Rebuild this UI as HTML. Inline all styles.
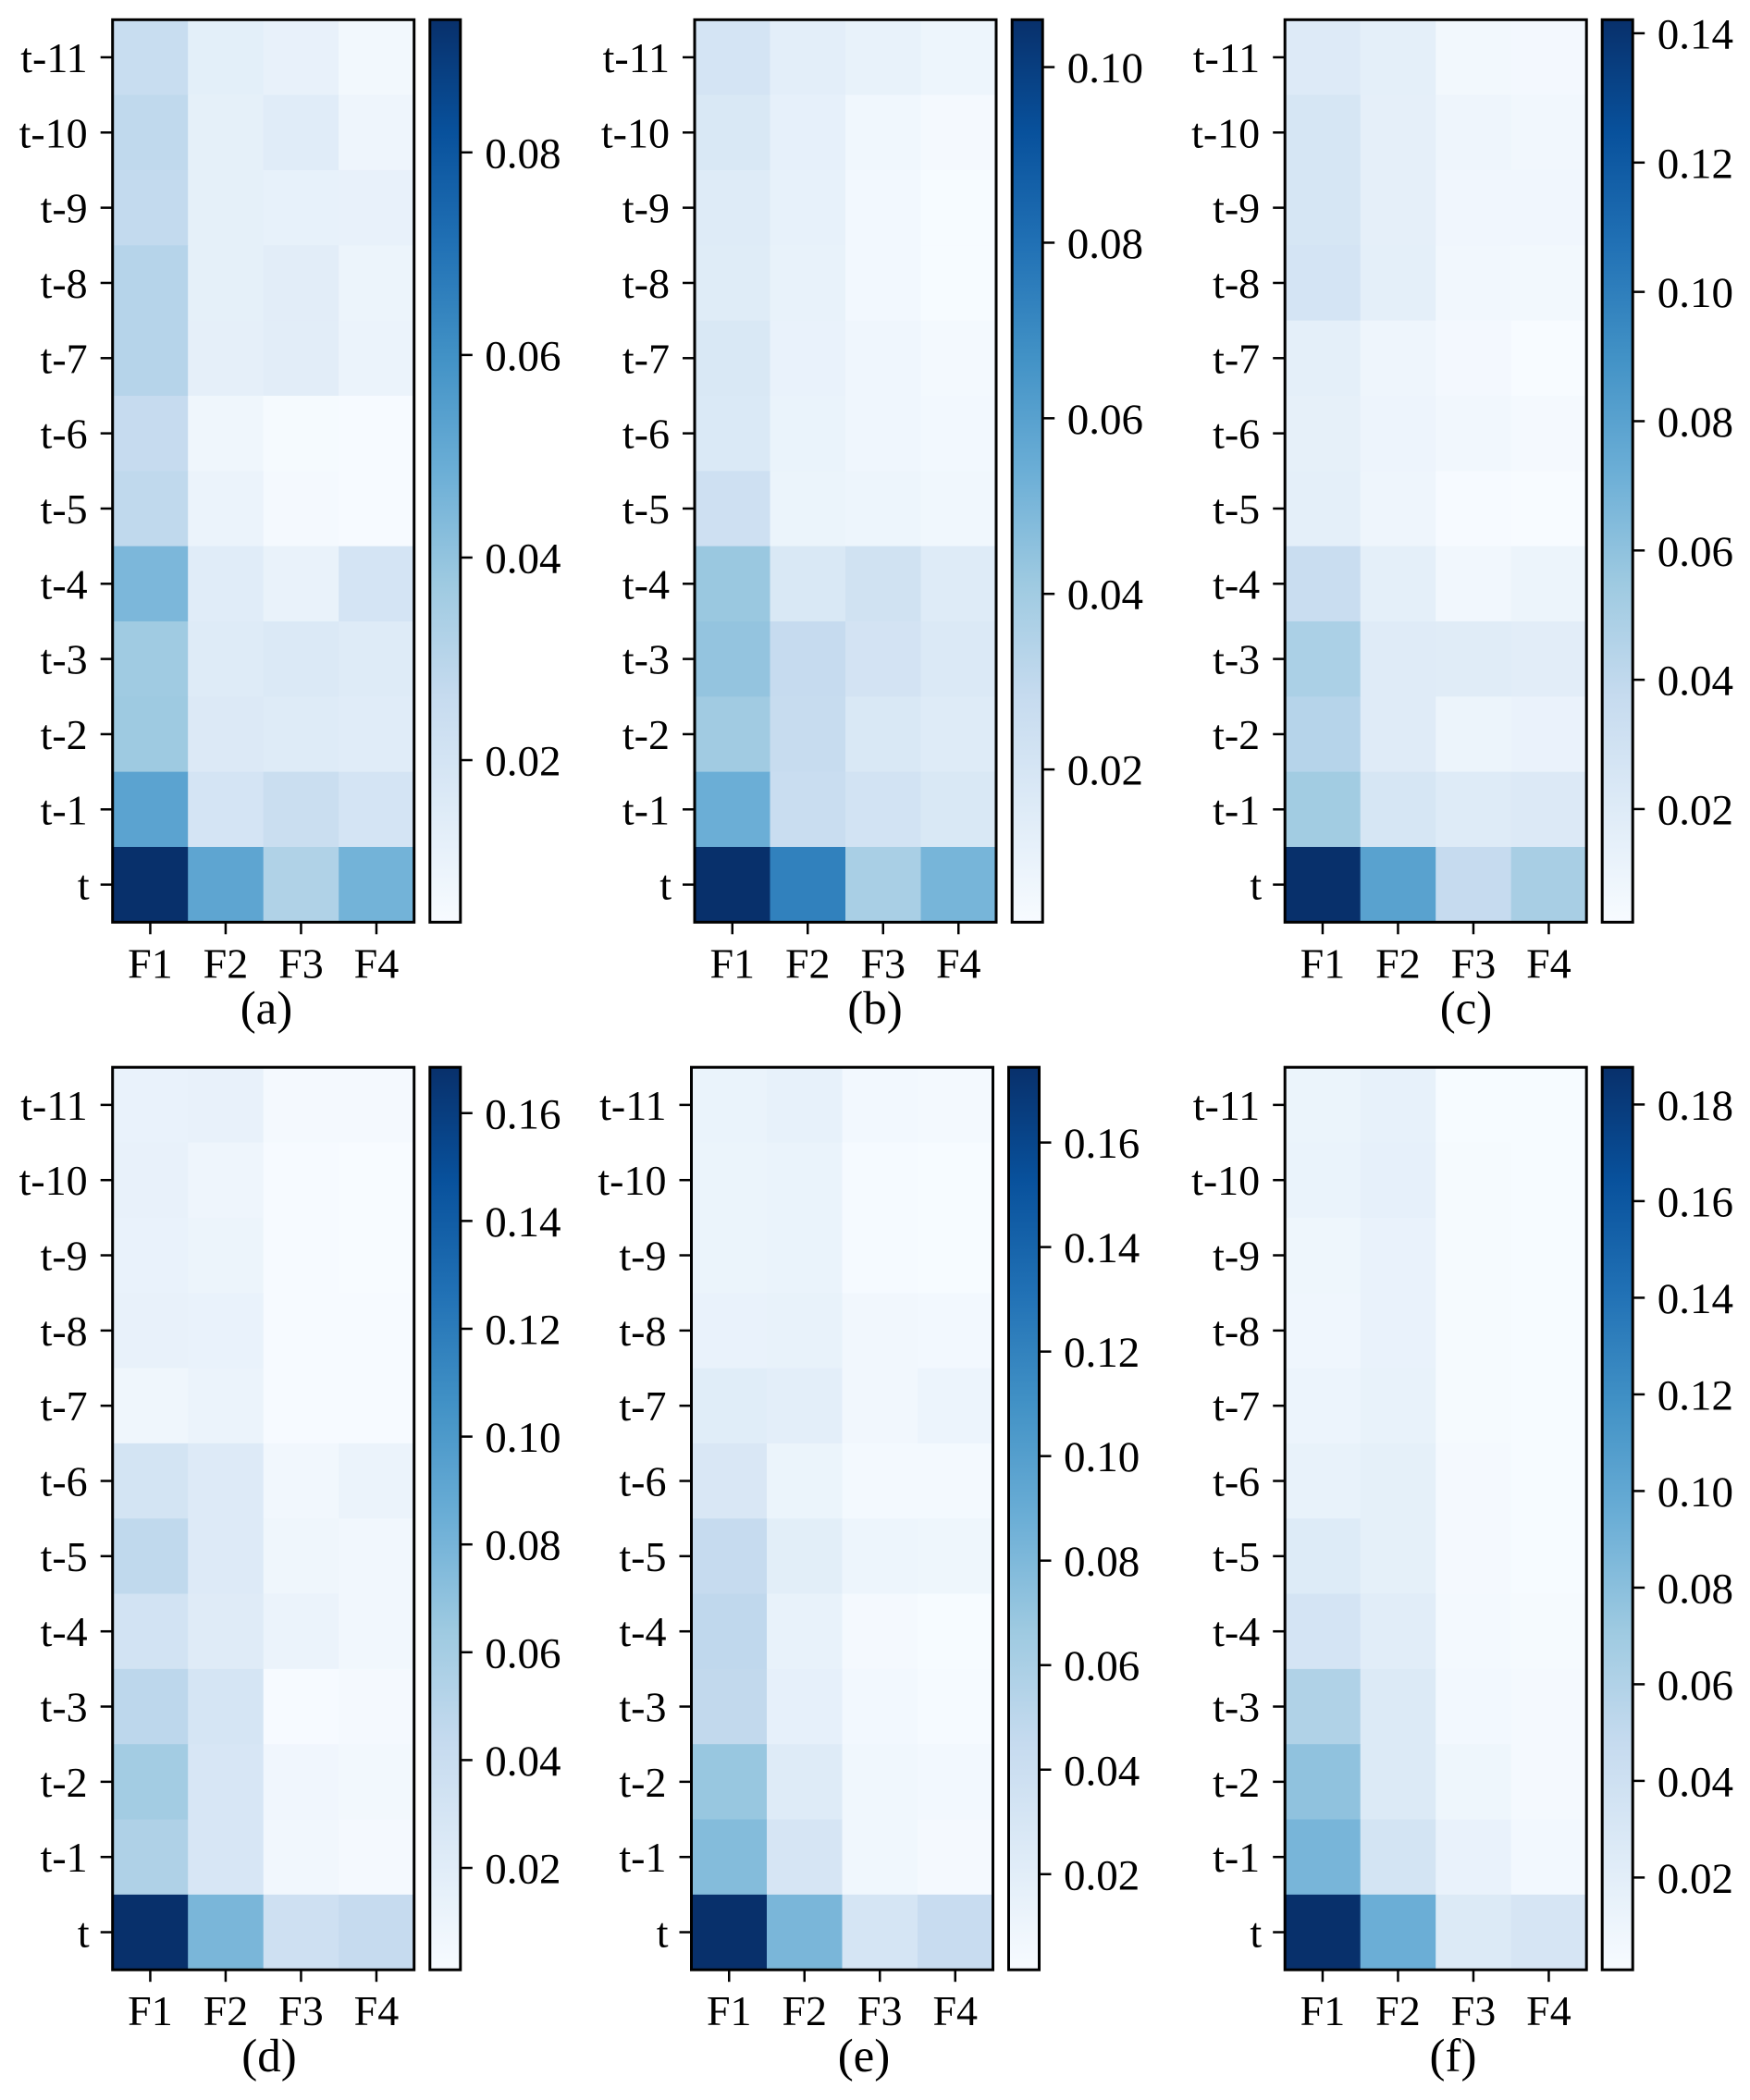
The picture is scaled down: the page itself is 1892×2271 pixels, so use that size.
<!DOCTYPE html>
<html lang="en">
<head>
<meta charset="utf-8">
<title>Feature attention heatmaps</title>
<style>
  html, body { margin: 0; padding: 0; background: #ffffff; }
  svg { display: block; }
  text { font-family: "Liberation Serif", serif; font-size: 46px; fill: #000000; }
  text.bar-label { font-size: 47px; }
  text.caption { font-size: 51px; }
</style>
</head>
<body>
<svg id="figure" xmlns="http://www.w3.org/2000/svg" width="1892" height="2271" viewBox="0 0 1892 2271">
  <defs>
    <linearGradient id="blues-gradient" x1="0" y1="1" x2="0" y2="0">
      <stop offset="0" stop-color="#f7fbff"/>
      <stop offset="0.125" stop-color="#deebf7"/>
      <stop offset="0.25" stop-color="#c6dbef"/>
      <stop offset="0.375" stop-color="#9ecae1"/>
      <stop offset="0.5" stop-color="#6baed6"/>
      <stop offset="0.625" stop-color="#4292c6"/>
      <stop offset="0.75" stop-color="#2171b5"/>
      <stop offset="0.875" stop-color="#08519c"/>
      <stop offset="1" stop-color="#08306b"/>
    </linearGradient>
  </defs>
</svg>
<script>
const features = ["F1", "F2", "F3", "F4"];
const timeSteps = ["t-11", "t-10", "t-9", "t-8", "t-7", "t-6", "t-5", "t-4", "t-3", "t-2", "t-1", "t"];

const valuesA = [
  [0.0252, 0.0127, 0.0109, 0.0064],
  [0.0279, 0.0118, 0.0144, 0.0082],
  [0.0270, 0.0118, 0.0113, 0.0109],
  [0.0306, 0.0118, 0.0135, 0.0091],
  [0.0306, 0.0122, 0.0135, 0.0095],
  [0.0261, 0.0077, 0.0050, 0.0046],
  [0.0279, 0.0095, 0.0055, 0.0046],
  [0.0449, 0.0144, 0.0104, 0.0198],
  [0.0368, 0.0153, 0.0167, 0.0153],
  [0.0373, 0.0162, 0.0153, 0.0144],
  [0.0529, 0.0198, 0.0243, 0.0198],
  [0.0932, 0.0520, 0.0323, 0.0467]
];
const valuesB = [
  [0.0210, 0.0127, 0.0101, 0.0076],
  [0.0179, 0.0112, 0.0060, 0.0039],
  [0.0153, 0.0107, 0.0050, 0.0029],
  [0.0148, 0.0101, 0.0050, 0.0029],
  [0.0179, 0.0096, 0.0065, 0.0045],
  [0.0174, 0.0091, 0.0065, 0.0050],
  [0.0241, 0.0086, 0.0076, 0.0060],
  [0.0421, 0.0179, 0.0230, 0.0153],
  [0.0437, 0.0282, 0.0215, 0.0168],
  [0.0401, 0.0277, 0.0179, 0.0153],
  [0.0540, 0.0267, 0.0220, 0.0179],
  [0.1056, 0.0736, 0.0375, 0.0509]
];
const valuesC = [
  [0.0210, 0.0161, 0.0063, 0.0056],
  [0.0259, 0.0154, 0.0091, 0.0070],
  [0.0259, 0.0154, 0.0077, 0.0077],
  [0.0273, 0.0161, 0.0070, 0.0063],
  [0.0161, 0.0091, 0.0056, 0.0028],
  [0.0147, 0.0098, 0.0070, 0.0049],
  [0.0161, 0.0091, 0.0035, 0.0028],
  [0.0350, 0.0161, 0.0070, 0.0105],
  [0.0491, 0.0196, 0.0189, 0.0175],
  [0.0442, 0.0196, 0.0105, 0.0119],
  [0.0533, 0.0259, 0.0203, 0.0217],
  [0.1423, 0.0799, 0.0372, 0.0505]
];
const valuesD = [
  [0.0124, 0.0140, 0.0040, 0.0040],
  [0.0140, 0.0090, 0.0023, 0.0014],
  [0.0124, 0.0107, 0.0023, 0.0014],
  [0.0140, 0.0124, 0.0023, 0.0023],
  [0.0082, 0.0115, 0.0023, 0.0023],
  [0.0317, 0.0233, 0.0065, 0.0115],
  [0.0460, 0.0233, 0.0082, 0.0065],
  [0.0325, 0.0216, 0.0115, 0.0065],
  [0.0476, 0.0300, 0.0023, 0.0040],
  [0.0611, 0.0283, 0.0073, 0.0056],
  [0.0552, 0.0283, 0.0065, 0.0040],
  [0.1686, 0.0787, 0.0359, 0.0426]
];
const valuesE = [
  [0.0126, 0.0152, 0.0056, 0.0048],
  [0.0117, 0.0126, 0.0030, 0.0022],
  [0.0117, 0.0126, 0.0030, 0.0022],
  [0.0134, 0.0143, 0.0065, 0.0056],
  [0.0212, 0.0186, 0.0065, 0.0108],
  [0.0282, 0.0117, 0.0048, 0.0048],
  [0.0446, 0.0195, 0.0100, 0.0091],
  [0.0481, 0.0143, 0.0039, 0.0022],
  [0.0472, 0.0160, 0.0056, 0.0030],
  [0.0689, 0.0230, 0.0074, 0.0056],
  [0.0776, 0.0308, 0.0074, 0.0039],
  [0.1746, 0.0819, 0.0316, 0.0429]
];
const valuesF = [
  [0.0117, 0.0155, 0.0014, 0.0014],
  [0.0127, 0.0164, 0.0024, 0.0014],
  [0.0089, 0.0136, 0.0024, 0.0014],
  [0.0080, 0.0136, 0.0024, 0.0014],
  [0.0108, 0.0145, 0.0024, 0.0014],
  [0.0145, 0.0174, 0.0033, 0.0014],
  [0.0248, 0.0174, 0.0033, 0.0014],
  [0.0342, 0.0211, 0.0042, 0.0024],
  [0.0604, 0.0258, 0.0052, 0.0033],
  [0.0773, 0.0258, 0.0089, 0.0033],
  [0.0885, 0.0351, 0.0136, 0.0052],
  [0.1878, 0.0942, 0.0258, 0.0323]
];

const limitsA = [0.0040, 0.0931];
const limitsB = [0.0026, 0.1054];
const limitsC = [0.0025, 0.1421];
const limitsD = [0.0011, 0.1685];
const limitsE = [0.0017, 0.1744];
const limitsF = [0.0009, 0.1877];

const ticksA = [0.02, 0.04, 0.06, 0.08];
const ticksB = [0.02, 0.04, 0.06, 0.08, 0.10];
const ticksC = [0.02, 0.04, 0.06, 0.08, 0.10, 0.12, 0.14];
const ticksD = [0.02, 0.04, 0.06, 0.08, 0.10, 0.12, 0.14, 0.16];
const ticksE = [0.02, 0.04, 0.06, 0.08, 0.10, 0.12, 0.14, 0.16];
const ticksF = [0.02, 0.04, 0.06, 0.08, 0.10, 0.12, 0.14, 0.16, 0.18];

const captions = ["(a)", "(b)", "(c)", "(d)", "(e)", "(f)"];
const blues = [[247,251,255],[222,235,247],[198,219,239],[158,202,225],[107,174,214],[66,146,198],[33,113,181],[8,81,156],[8,48,107]];

const NS = "http://www.w3.org/2000/svg";
const figure = document.getElementById("figure");

function blueColor(t) {
  const c = Math.max(0, Math.min(1, t)) * (blues.length - 1);
  const i = Math.min(Math.floor(c), blues.length - 2);
  const f = c - i;
  const mix = [0, 1, 2].map(function (k) { return Math.round(blues[i][k] + (blues[i + 1][k] - blues[i][k]) * f); });
  return "rgb(" + mix.join(",") + ")";
}

function shape(parent, tag, attrs) {
  const el = document.createElementNS(NS, tag);
  Object.keys(attrs).forEach(function (k) { el.setAttribute(k, attrs[k]); });
  parent.appendChild(el);
  return el;
}

function drawPanel(layout, values, limits, ticks, caption, key) {
  const mapW = 326, mapH = 976, barW = 33;
  const xScale = function (i) { return layout.left + i * mapW / features.length; };
  const yScale = function (i) { return layout.top + i * mapH / timeSteps.length; };
  const norm = function (v) { return (v - limits[0]) / (limits[1] - limits[0]); };
  const barScale = function (v) { return layout.top + mapH * (1 - norm(v)); };

  const g = shape(figure, "g", {});
  
  

  values.forEach(function (row, r) {
    row.forEach(function (v, c) {
      const cell = shape(g, "rect", { x: xScale(c), y: yScale(r), width: mapW / features.length + 0.5, height: mapH / timeSteps.length + 0.5, fill: blueColor(norm(v)) });
      
      
    });
  });

  const frame = shape(g, "rect", { x: layout.left, y: layout.top, width: mapW, height: mapH, fill: "none", stroke: "#000", "stroke-width": 3 });
  
  

  timeSteps.forEach(function (label, r) {
    const y = yScale(r + 0.5);
    const tick = shape(g, "line", { x1: layout.left - 13, x2: layout.left, y1: y, y2: y, stroke: "#000", "stroke-width": 2.5 });
    
    
    const labelEnd = label === "t" ? layout.left - 25 : layout.left - 27;
    const text = shape(g, "text", { x: labelEnd, y: y + 16, "text-anchor": "end" });
    text.textContent = label;
    
    
  });

  features.forEach(function (label, c) {
    const x = xScale(c + 0.5);
    const tick = shape(g, "line", { x1: x, x2: x, y1: layout.top + mapH, y2: layout.top + mapH + 13, stroke: "#000", "stroke-width": 2.5 });
    
    
    const text = shape(g, "text", { x: x, y: layout.top + mapH + 60, "text-anchor": "middle" });
    text.textContent = label;
    
    
  });

  const bar = shape(g, "rect", { x: layout.barLeft, y: layout.top, width: barW, height: mapH, fill: "url(#blues-gradient)", stroke: "#000", "stroke-width": 3 });
  
  

  ticks.forEach(function (v) {
    const y = barScale(v);
    const label = v.toFixed(2);
    const tick = shape(g, "line", { x1: layout.barLeft + barW, x2: layout.barLeft + barW + 13, y1: y, y2: y, stroke: "#000", "stroke-width": 2.5 });
    
    
    const text = shape(g, "text", { x: layout.barLeft + barW + 26.5, y: y + 16.5, "class": "bar-label" });
    text.textContent = label;
    
    
  });

  const cap = shape(g, "text", { x: layout.capX, y: layout.capY, "text-anchor": "middle", "class": "caption" });
  cap.textContent = caption;
  
  
}

drawPanel({ left: 121.7, top: 21.3, barLeft: 464.8, capX: 288, capY: 1107 }, valuesA, limitsA, ticksA, captions[0], "a");
drawPanel({ left: 751, top: 21.3, barLeft: 1094.2, capX: 946, capY: 1107 }, valuesB, limitsB, ticksB, captions[1], "b");
drawPanel({ left: 1389.2, top: 21.3, barLeft: 1732.2, capX: 1585, capY: 1107 }, valuesC, limitsC, ticksC, captions[2], "c");
drawPanel({ left: 121.7, top: 1154.2, barLeft: 464.8, capX: 291, capY: 2240 }, valuesD, limitsD, ticksD, captions[3], "d");
drawPanel({ left: 747.5, top: 1154.2, barLeft: 1090.5, capX: 934, capY: 2240 }, valuesE, limitsE, ticksE, captions[4], "e");
drawPanel({ left: 1389.2, top: 1154.2, barLeft: 1732.2, capX: 1571, capY: 2240 }, valuesF, limitsF, ticksF, captions[5], "f");
</script>
</body>
</html>
